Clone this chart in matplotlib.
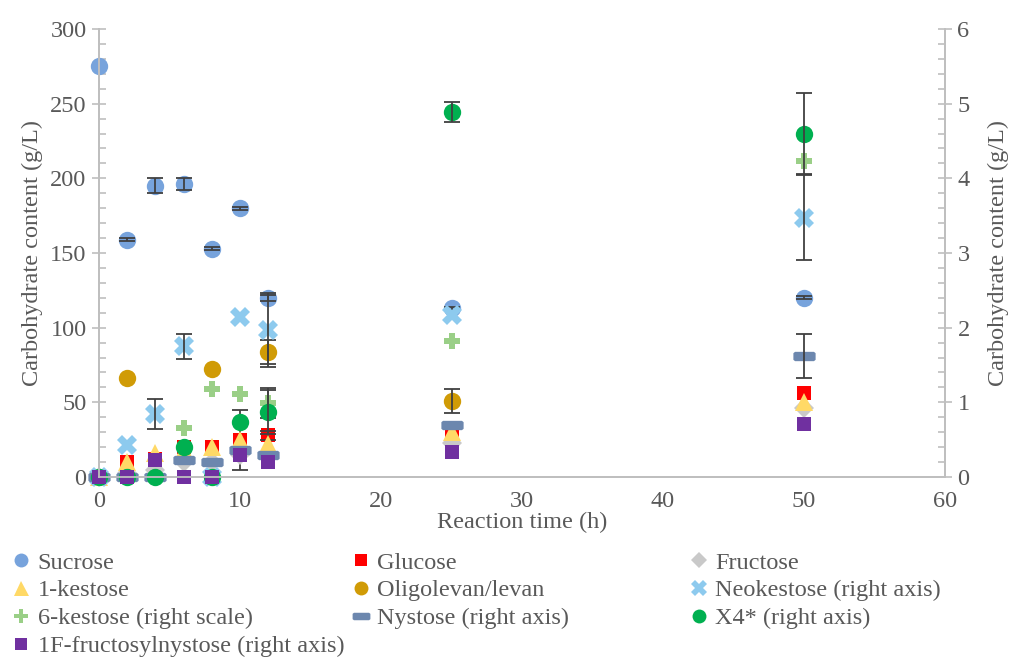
import numpy as np
import matplotlib
matplotlib.use("Agg")
import matplotlib.pyplot as plt
from matplotlib.ticker import MultipleLocator

plt.rcParams['font.family'] = ['Liberation Serif', 'DejaVu Serif']

# reaction time (h)
time_h = [0, 2, 4, 6, 8, 10, 12, 25, 50]

# left axis series (g/L)
sucrose = [275, 159, 195, 196, 153, 180, 120, 113, 120]
sucrose_err = [0, 1, 5, 4, 1, 1, 2, 1, 1]
glucose = [0, 10, 12, 20, 20, 25, 28, 30, 56]
glucose_err = [0, 0, 0, 0, 0, 20, 3, 0, 0]
fructose = [0, 3, 5, 10, 10, 15, 15, 23, 46]
kestose1 = [0, 10, 16, 18, 20, 25, 22, 30, 50]
oligolevan = [np.nan, 66, np.nan, np.nan, 72, np.nan, 84, 51, np.nan]
oligolevan_err = [0, 0, 0, 0, 0, 0, 8, 8, 0]

# right axis series (g/L)
neokestose = [0, 0.43, 0.84, 1.75, 0, 2.14, 1.97, 2.17, 3.47]
neokestose_err = [0, 0, 0.2, 0.17, 0, 0, 0.5, 0, 0.57]
kestose6 = [0, 0, 0, 0.65, 1.18, 1.11, 0.99, 1.82, 4.23]
kestose6_err = [0, 0, 0, 0, 0, 0, 0.2, 0, 0]
nystose = [0, 0, 0, 0.23, 0.2, 0.36, 0.3, 0.70, 1.62]
nystose_err = [0, 0, 0, 0, 0, 0, 0, 0, 0.3]
x4 = [0, 0, 0, 0.40, 0, 0.74, 0.87, 4.89, 4.6]
x4_err = [0, 0, 0, 0, 0, 0, 0.3, 0.13, 0.54]
fnystose = [0, 0, 0.23, 0, 0, 0.29, 0.2, 0.33, 0.71]

# rounded-ish horizontal bar used by Excel for the nystose series
dash = [(-1, -0.3), (-0.85, -0.42), (0.85, -0.42), (1, -0.3), (1, 0.3),
        (0.85, 0.42), (-0.85, 0.42), (-1, 0.3), (-1, -0.3)]

fig = plt.figure(figsize=(10.13, 6.59), dpi=100)
ax = fig.add_axes([99 / 1013, 1 - 477 / 659, (945 - 99) / 1013, (477 - 29) / 659])
ax2 = ax.twinx()

grey = '#BFBFBF'
txt = '#595959'
ecol = '#404040'


def draw(a, y, err, label, **kw):
    a.plot(time_h, y, linestyle='none', label=label, clip_on=False,
           markeredgewidth=0, **kw)
    if err is not None:
        xs = [t for t, e in zip(time_h, err) if e > 0]
        ys = [v for v, e in zip(y, err) if e > 0]
        es = [e for e in err if e > 0]
        a.errorbar(xs, ys, yerr=es, fmt='none', ecolor=ecol, elinewidth=1.3,
                   capsize=6, capthick=1.3, clip_on=False)


draw(ax, sucrose, sucrose_err, 'Sucrose', marker='o', ms=12.5, color='#77A3DC')
draw(ax, glucose, glucose_err, 'Glucose', marker='s', ms=10, color='#FF0000')
draw(ax, fructose, None, 'Fructose', marker='D', ms=10.5, color='#C9C9C9')
draw(ax, kestose1, None, '1-kestose', marker='^', ms=13.5, color='#FFD966')
draw(ax, oligolevan, oligolevan_err, 'Oligolevan/levan', marker='o', ms=12.5, color='#D09B06')
draw(ax2, neokestose, neokestose_err, 'Neokestose (right axis)', marker='X', ms=15, color='#8DCAEE')
draw(ax2, kestose6, kestose6_err, '6-kestose (right scale)', marker='P', ms=12, color='#9ACF87')
draw(ax2, nystose, nystose_err, 'Nystose (right axis)', marker=dash, ms=16, color='#6C87AE')
draw(ax2, x4, x4_err, 'X4* (right axis)', marker='o', ms=12.5, color='#00B050')
draw(ax2, fnystose, None, '1F-fructosylnystose (right axis)', marker='s', ms=10.5, color='#7030A0')

ax.set_xlim(0, 60)
ax.set_ylim(0, 300)
ax2.set_ylim(0, 6)
ax.xaxis.set_major_locator(MultipleLocator(10))
ax.yaxis.set_major_locator(MultipleLocator(50))
ax.yaxis.set_minor_locator(MultipleLocator(10))
ax2.yaxis.set_major_locator(MultipleLocator(1))
ax2.yaxis.set_minor_locator(MultipleLocator(0.2))

for a in (ax, ax2):
    a.spines['top'].set_visible(False)
    for s in ('left', 'right', 'bottom'):
        a.spines[s].set_color(grey)
        a.spines[s].set_linewidth(1.3)
    a.tick_params(axis='y', which='major', direction='inout', length=10, width=1.2,
                  color=grey, labelcolor=txt, labelsize=17.5, pad=4)
    a.tick_params(axis='y', which='minor', direction='in', length=5, width=1.2, color=grey)
ax.tick_params(axis='x', length=0, labelcolor=txt, labelsize=17.5, pad=10)

ax.set_xlabel('Reaction time (h)', fontsize=17.5, color=txt, labelpad=0)
ax.set_ylabel('Carbohydrate content (g/L)', fontsize=17.5, color=txt, labelpad=5)
ax2.set_ylabel('Carbohydrate content (g/L)', fontsize=17.5, color=txt, labelpad=13)

# legend laid out row by row in three columns
hl = {}
for a in (ax, ax2):
    for line in a.get_lines():
        hl[line.get_label()] = line
cols = [['Sucrose', '1-kestose', '6-kestose (right scale)', '1F-fructosylnystose (right axis)'],
        ['Glucose', 'Oligolevan/levan', 'Nystose (right axis)'],
        ['Fructose', 'Neokestose (right axis)', 'X4* (right axis)']]
lefts = [0.012, 0.347, 0.681]
for names, x0 in zip(cols, lefts):
    leg = fig.legend([hl[n] for n in names], names, loc='upper left',
                     bbox_to_anchor=(x0, 0.163), frameon=False, fontsize=17.5,
                     handlelength=0.75, handletextpad=0.3, labelspacing=0.24,
                     borderpad=0, borderaxespad=0, markerscale=0.8)
    for t in leg.get_texts():
        t.set_color(txt)

fig.savefig('out.png', dpi=100)
